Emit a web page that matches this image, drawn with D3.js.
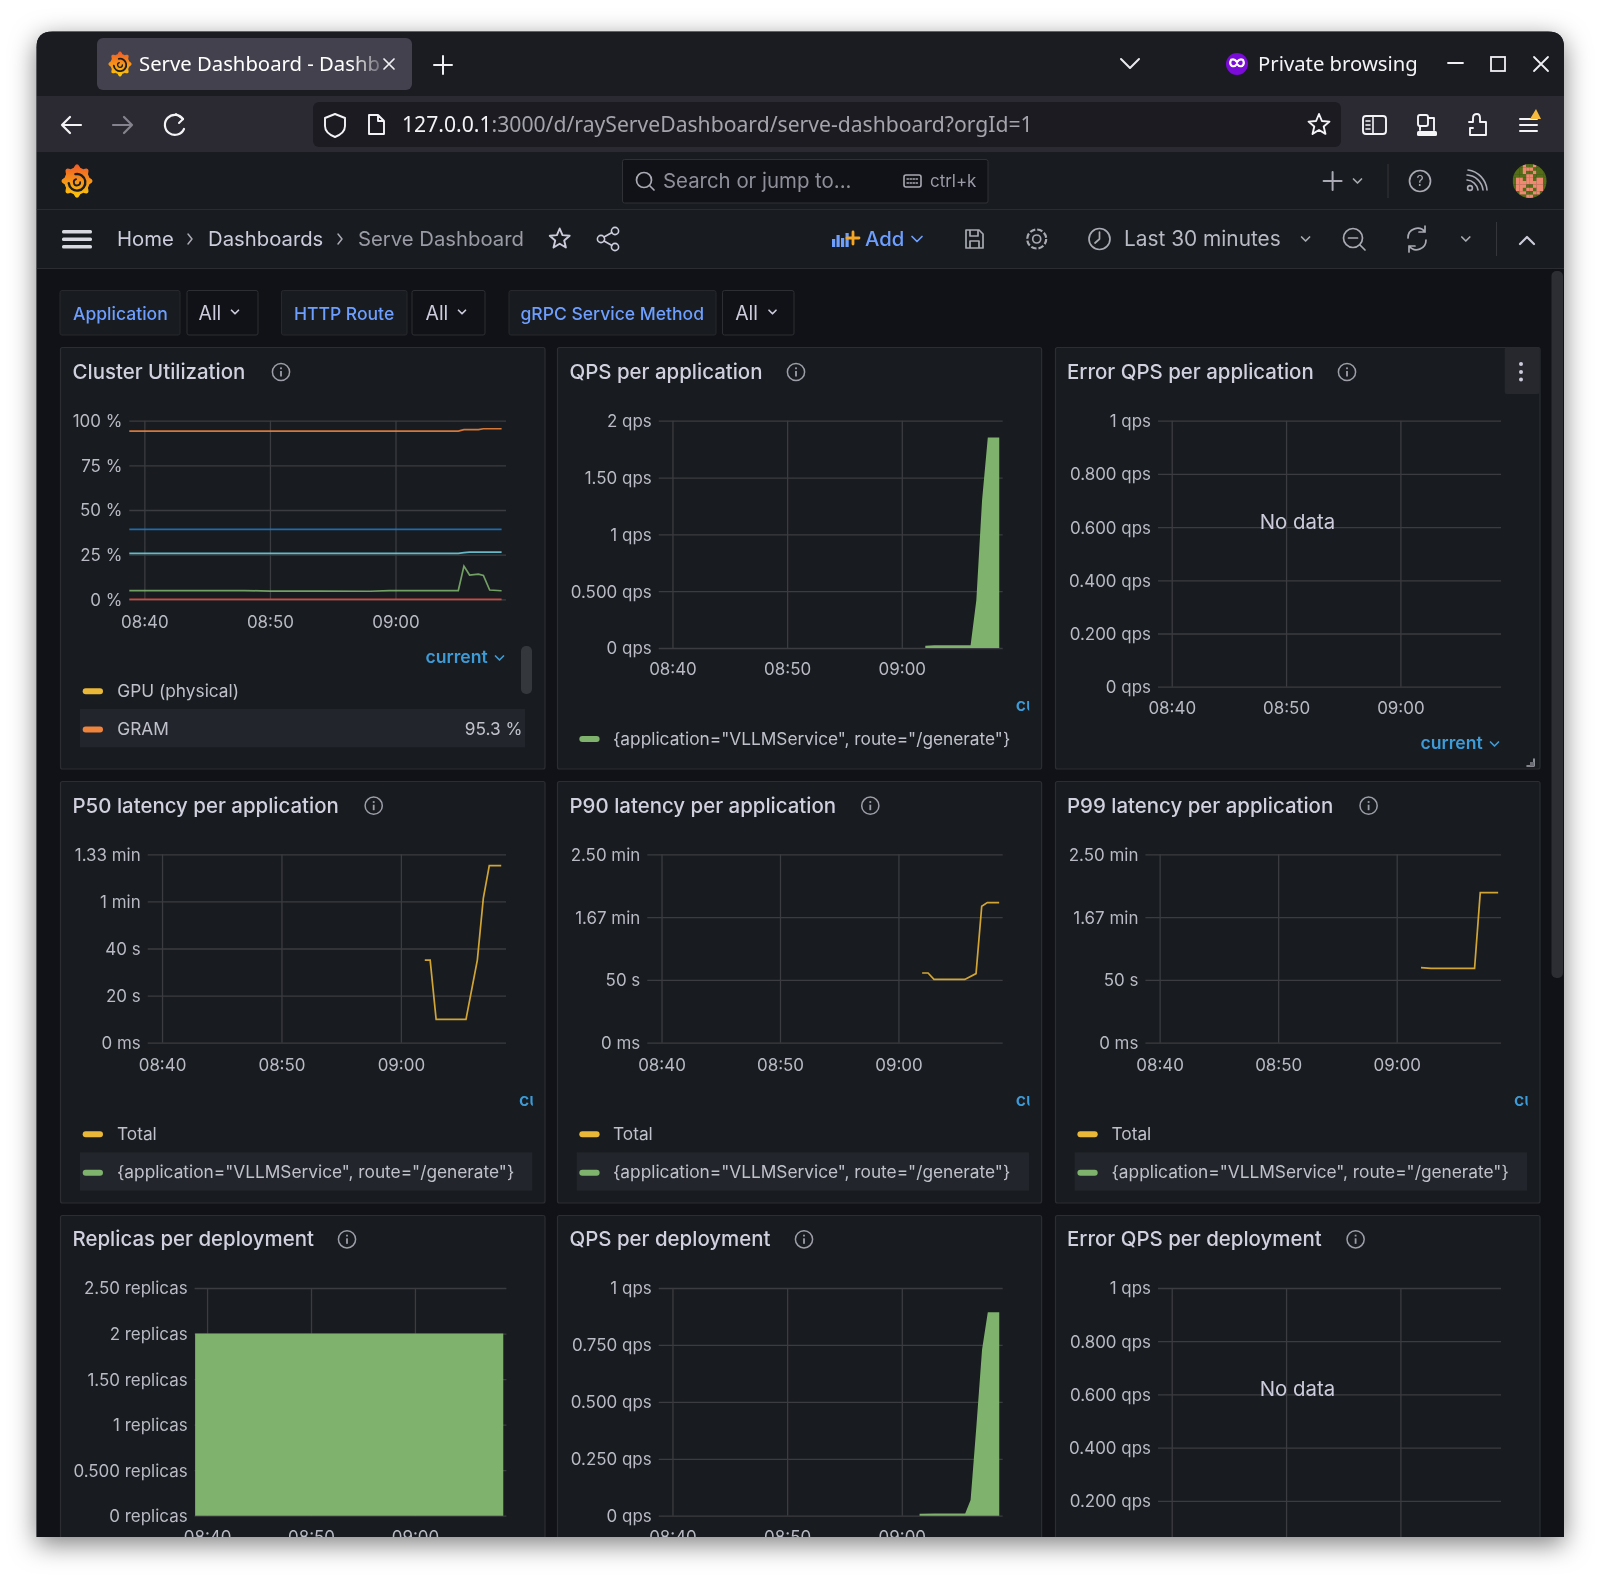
<!DOCTYPE html>
<html><head><meta charset="utf-8">
<style>
html,body{margin:0;padding:0;background:#fff;overflow:hidden}
svg{display:block}
text{font-family:Inter,"Noto Sans",sans-serif}
.tick text{font-size:16.95px;fill:#b9bac4}
.tick line{stroke:#3a3c41;stroke-width:1.3}
</style></head><body>
<script src="https://cdn.jsdelivr.net/npm/d3@7"></script>
<script>
// ---- time axis (minutes after 08:40) ----
const timeTicks=[0,10,20];
const timeTickLabels=["08:40","08:50","09:00"];
const timeDomain=[-1.2,28.8];

// ---- Cluster Utilization (%) ----
const utilT=[-1.2,3,8,10,14,18,19.5,22,25,25.45,25.9,26.6,27,27.5,28.45];
const utilGram=[94.2,94.2,94.2,94.2,94.2,94.2,94.2,94.2,94.2,95,95,95,95.5,95.5,95.5];
const utilCpu=[39.2,39.2,39.2,39.2,39.2,39.2,39.2,39.2,39.2,39.2,39.2,39.2,39.2,39.2,39.2];
const utilMem=[25.7,25.7,25.7,25.7,25.7,25.7,25.7,25.7,25.7,26.1,26.4,26.4,26.4,26.4,26.4];
const utilGpu=[4.9,4.9,4.9,4.6,4.6,4.5,4.9,4.9,4.9,18.6,13.6,14.1,13.4,5.2,4.8];
const utilDisk=[0,0,0,0,0,0,0,0,0,0,0,0,0,0,0];
const utilTicks=[0,25,50,75,100];
const utilLabels=["0 %","25 %","50 %","75 %","100 %"];

// ---- QPS per application ----
const qpsAppT=[22.05,22.85,26,26.5,27,27.5,28.5];
const qpsAppV=[0.02,0.024,0.024,0.42,1.3,1.853,1.853];
const qpsAppTicks=[0,0.5,1,1.5,2];
const qpsAppLabels=["0 qps","0.500 qps","1 qps","1.50 qps","2 qps"];

// ---- Error QPS (no data) ----
const errTicks=[0,0.2,0.4,0.6,0.8,1];
const errLabels=["0 qps","0.200 qps","0.400 qps","0.600 qps","0.800 qps","1 qps"];

// ---- latency (seconds) ----
const p50T=[22,22.45,22.95,25.45,26.4,26.9,27.4,28.4];
const p50V=[35.1,35.1,9.9,9.9,35.1,61.3,75.2,75.2];
const p50Ticks=[0,20,40,60,80];
const p50Labels=["0 ms","20 s","40 s","1 min","1.33 min"];
const p90T=[22,22.5,23,25.6,26.55,27.03,27.5,28.5];
const p90V=[55.5,55.5,50.4,50.4,55,108.6,111.5,111.5];
const p99T=[22.05,22.9,26.57,27.05,28.56];
const p99V=[59.7,59.2,59.2,119.5,119.5];
const lat150Ticks=[0,50,100,150];
const lat150Labels=["0 ms","50 s","1.67 min","2.50 min"];

// ---- replicas / QPS per deployment ----
const replicaT=[-1.15,5,10,15,20,25,28.5];
const replicaV=[2,2,2,2,2,2,2];
const replicaTicks=[0,0.5,1,1.5,2,2.5];
const replicaLabels=["0 replicas","0.500 replicas","1 replicas","1.50 replicas","2 replicas","2.50 replicas"];
const qpsDepT=[21.55,22.85,25.53,26,26.5,27,27.5,28.5];
const qpsDepV=[0.009,0.01,0.01,0.069,0.39,0.73,0.893,0.893];
const qpsDepTicks=[0,0.25,0.5,0.75,1];
const qpsDepLabels=["0 qps","0.250 qps","0.500 qps","0.750 qps","1 qps"];

// ---- legends ----
const routeLabel='{application="VLLMService", route="/generate"}';
const clusterLegend=["GPU (physical)","GRAM"];
const clusterCurrent="95.3 %";

// ---- palette ----
const GREEN="#7eb26d",YELLOW="#eab839",ORANGE="#ef843c",CYAN="#6ed0e0",BLUE="#1f78c1",RED="#e24d42";
const TXT="#ccccdc",ICON="#a9aab3",LINK="#3d9bd8";

const svg=d3.select("body").append("svg").attr("width",1600).attr("height",1577);
const defs=svg.append("defs");
const WL=36.5,WT=31.5,WR=1564,WB=1537,R=16;
const winPath=`M${WL},${WB}V${WT+R}Q${WL},${WT} ${WL+R},${WT}H${WR-R}Q${WR},${WT} ${WR},${WT+R}V${WB}Z`;
defs.append("clipPath").attr("id","win").append("path").attr("d",winPath);
const grad=defs.append("linearGradient").attr("id","gf").attr("x1",0).attr("y1",0).attr("x2",0).attr("y2",1);
grad.append("stop").attr("offset",0).attr("stop-color","#f05a28");
grad.append("stop").attr("offset",1).attr("stop-color","#fbca0a");

svg.append("path").attr("d",winPath).attr("fill","#1b1c21").style("filter","drop-shadow(0 7px 13px rgba(0,0,0,.5))");
const W=svg.append("g").attr("clip-path","url(#win)").style("filter","blur(.4px)");

function rect(g,x0,y0,x1,y1,fill,o={}){
  const r=g.append("rect").attr("x",x0).attr("y",y0).attr("width",x1-x0).attr("height",y1-y0).attr("fill",fill);
  if(o.r)r.attr("rx",o.r);
  if(o.stroke)r.attr("stroke",o.stroke).attr("stroke-width",o.sw||1);
  return r;
}
function text(g,x,y,s,size,fill,o={}){
  return g.append("text").attr("x",x).attr("y",y).attr("dy",".35em").text(s)
    .attr("font-size",size).attr("fill",fill)
    .attr("font-weight",o.w||400).attr("text-anchor",o.a||"start")
    .style("font-family",o.f||null);
}
function stroke(g,d,c,sw=1.8,tr){
  const p=g.append("path").attr("d",d).attr("fill","none").attr("stroke",c).attr("stroke-width",sw)
    .attr("stroke-linecap","round").attr("stroke-linejoin","round");
  if(tr)p.attr("transform",tr);
  return p;
}
function chev(g,x,y,c=ICON,s=4){stroke(g,`M${x-s},${y-s/2}L${x},${y+s/2}L${x+s},${y-s/2}`,c,1.7);}
function star(g,x,y,r,c){
  const pts=d3.range(10).map(i=>{const a=-Math.PI/2+i*Math.PI/5,q=i%2?r*.45:r;return [x+q*Math.cos(a),y+q*Math.sin(a)];});
  stroke(g,"M"+pts.join("L")+"Z",c,1.9);
}
function logo(g,x,y,s){
  const n=72,pts=d3.range(n).map(i=>{const a=i/n*2*Math.PI;const t=Math.cos(a*8);const q=.84+.13*Math.max(t,-.4);return [x+s*q*Math.cos(a),y+s*1.08*q*Math.sin(a)];});
  g.append("path").attr("d","M"+pts.join("L")+"Z").attr("fill","url(#gf)");
  stroke(g,d3.arc()({innerRadius:s*.52,outerRadius:s*.52,startAngle:-.2,endAngle:4.6}),"#1c1d22",s*.15,`translate(${x},${y+s*.08})`);
  stroke(g,d3.arc()({innerRadius:s*.2,outerRadius:s*.2,startAngle:1.5,endAngle:6}),"#1c1d22",s*.11,`translate(${x},${y+s*.08})`);
}

// ---- browser chrome ----
rect(W,WL,WT,WR,96,"#1b1c21");
rect(W,WL,96,WR,152,"#2b2a33");
rect(W,97,38,412,90,"#42414d",{r:6});
logo(W,120,64,12);
const tabFade=defs.append("linearGradient").attr("id","tabf");
tabFade.append("stop").attr("offset",.88).attr("stop-color","#fff").attr("stop-opacity",1);
tabFade.append("stop").attr("offset",1).attr("stop-color","#fff").attr("stop-opacity",.25);
const UI='"Noto Sans",sans-serif';
text(W,139,64,"Serve Dashboard - Dashb",20.3,"url(#tabf)",{f:UI});
stroke(W,"M384,59L394,69M394,59L384,69","#f0f0f4",1.7);
stroke(W,"M443,56V74M434,65H452","#f0f0f4",2);
stroke(W,"M1121,59L1130,68L1139,59","#e8e8ee",2);
W.append("circle").attr("cx",1237).attr("cy",64).attr("r",11).attr("fill","#7a0bd8");
stroke(W,"M1231,60q3,-2 6,2q3,-4 6,-2q2,4 -1,6q-3,1 -5,-2q-2,3 -5,2q-3,-2 -1,-6","#fff",2.2);
text(W,1258,64,"Private browsing",20.3,"#f4f4f7",{f:UI});
stroke(W,"M1448,63H1463","#f0f0f4",1.8);
rect(W,1491,57,1505,71,"none",{stroke:"#f0f0f4",sw:1.8});
stroke(W,"M1534,57L1548,71M1548,57L1534,71","#f0f0f4",1.8);
// nav
stroke(W,"M81,125H62M70,117L62,125L70,133","#f4f4f7",2.2);
stroke(W,"M113,125H132M124,117L132,125L124,133","#85848e",2.2);
stroke(W,"M183,119A10,10 0 1 0 184,129","#f4f4f7",2.2);
stroke(W,"M176,114L183,119L179,123","#f4f4f7",2);
rect(W,313,102,1341,147,"#1c1b22",{r:6});
stroke(W,"M335,114L345,118V126C345,131 340,135 335,137C330,135 325,131 325,126V118Z","#f4f4f7",1.9);
stroke(W,"M369,115H378L384,121V134H369ZM378,115V121H384","#f4f4f7",1.9);
const urlT=text(W,402,125,"",21.15,"#f4f4f7",{f:UI});
urlT.append("tspan").text("127.0.0.1");
urlT.append("tspan").attr("fill","#a5a4ad").text(":3000/d/rayServeDashboard/serve-dashboard?orgId=1");
star(W,1319,125,11,"#f4f4f7");
rect(W,1363,116,1386,134,"none",{r:3,stroke:"#f4f4f7",sw:1.9});
stroke(W,"M1373,116V134M1366,121H1370M1366,125H1370M1366,129H1370","#f4f4f7",1.6);
rect(W,1418,115,1428,126,"none",{r:2,stroke:"#f4f4f7",sw:1.9});
stroke(W,"M1428,118H1434V130M1420,126V130","#f4f4f7",1.9);
rect(W,1417,131,1437,136,"#f4f4f7",{r:1.5});
stroke(W,"M1469,122H1473V118Q1473,114 1477,114Q1480,114 1480,118V122H1486V135H1470V128H1473","#f4f4f7",1.9);
stroke(W,"M1520,119H1537M1520,125H1537M1520,131H1537","#f4f4f7",2);
W.append("path").attr("d","M1530,119L1536,109L1541,119Z").attr("fill","#f5b93e");

// ---- Grafana header ----
rect(W,WL,152,WR,269,"#181b1f");
rect(W,WL,209,WR,210,"#2a2c31");
rect(W,WL,268,WR,269,"#2a2c31");
rect(W,WL,269,WR,WB,"#111217");
logo(W,77,181,16);
rect(W,622.5,159.5,988,203,"#111217",{r:2,stroke:"#2f3136"});
W.append("circle").attr("cx",644).attr("cy",180).attr("r",7.5).attr("fill","none").attr("stroke",ICON).attr("stroke-width",1.7);
stroke(W,"M650,186L654,190",ICON,1.7);
text(W,663,181,"Search or jump to...",20.4,"#8e8f99");
rect(W,904,175,921,187,"none",{r:2,stroke:ICON,sw:1.6});
stroke(W,"M907,179H918M907,183H918",ICON,1.3).attr("stroke-dasharray","1.5 1.5");
text(W,930,181,"ctrl+k",16.9,"#9a9ba5");
stroke(W,"M1332.6,172V190M1323.6,181H1341.6",ICON,2);
chev(W,1357.5,181);
rect(W,1387.5,164,1388.5,198,"#34363b");
W.append("circle").attr("cx",1420).attr("cy",181).attr("r",10.5).attr("fill","none").attr("stroke",ICON).attr("stroke-width",1.7);
text(W,1420,181,"?",14,ICON,{a:"middle"});
W.append("circle").attr("cx",1470).attr("cy",188).attr("r",2.4).attr("fill","none").attr("stroke",ICON).attr("stroke-width",1.6);
stroke(W,"M1467,180A12,12 0 0 1 1478,190M1467,175A17,17 0 0 1 1483,190M1468,170A22,22 0 0 1 1487,190",ICON,1.6);
// avatar: pixel identicon
const avatarRows=["gggpggpggg","gggpppgggg","gggpggpggg","ggggppgggg","gppgppgppg","gppppppppg","gpppggpppg","gppgppgppg","ggppggppgg","ggggppgggg"];
defs.append("clipPath").attr("id","av").append("circle").attr("cx",1529.6).attr("cy",181).attr("r",17);
const av=W.append("g").attr("clip-path","url(#av)");
avatarRows.forEach((r,j)=>[...r].forEach((c,i)=>rect(av,1512.6+i*3.4,164+j*3.4,1512.6+(i+1)*3.4+.2,164+(j+1)*3.4+.2,c=="p"?"#ef8a72":"#546f18")));

rect(W,62,230,92,233.5,"#d8d8e0",{r:1.5});rect(W,62,237.5,92,241,"#d8d8e0",{r:1.5});rect(W,62,245,92,248.5,"#d8d8e0",{r:1.5});
const crumbSize=20.3;
text(W,117,239,"Home",crumbSize,TXT);
stroke(W,"M188,234L192,239L188,244",ICON,1.5);
text(W,208,239,"Dashboards",crumbSize,TXT);
stroke(W,"M338,234L342,239L338,244",ICON,1.5);
text(W,358,239,"Serve Dashboard",crumbSize,"#9a9ba5");
star(W,559.7,239,10.5,TXT);
[[601,239],[615,231],[615,247]].forEach(p=>W.append("circle").attr("cx",p[0]).attr("cy",p[1]).attr("r",3.6).attr("fill","none").attr("stroke",TXT).attr("stroke-width",1.6));
stroke(W,"M604,237L612,232.5M604,241L612,245.5",TXT,1.6);
// add
[[832,8],[836.5,12],[841,9],[845.5,14]].forEach(b=>rect(W,b[0],247-b[1],b[0]+3.2,247,"#6e9fff"));
stroke(W,"M853,232V244M847,238H859","#f5a623",2.8);
text(W,865,239,"Add",20.3,"#6e9fff",{w:500});
chev(W,917,239,"#6e9fff",5);
stroke(W,"M966,230H979L983,234V248H966ZM970,230V236H978V230M970,248V241H979V248",ICON,1.7);
W.append("circle").attr("cx",1036.7).attr("cy",239).attr("r",4).attr("fill","none").attr("stroke",ICON).attr("stroke-width",1.7);
W.append("circle").attr("cx",1036.7).attr("cy",239).attr("r",9.5).attr("fill","none").attr("stroke",ICON).attr("stroke-width",2.2).attr("stroke-dasharray","5.5 2");
W.append("circle").attr("cx",1099.5).attr("cy",239).attr("r",10.5).attr("fill","none").attr("stroke",ICON).attr("stroke-width",1.7);
stroke(W,"M1099.5,232V239L1095,243",ICON,1.7);
text(W,1124,239,"Last 30 minutes",20.85,"#b9bac4");
chev(W,1305.6,239);
W.append("circle").attr("cx",1353).attr("cy",238).attr("r",9.5).attr("fill","none").attr("stroke",ICON).attr("stroke-width",1.7);
stroke(W,"M1348.5,238H1357.5M1360,245L1365,250",ICON,1.7);
stroke(W,"M1408,238A9.5,9.5 0 0 1 1425,232M1426,240A9.5,9.5 0 0 1 1409,246M1425,226V232H1419M1409,252V246H1415",ICON,1.7);
chev(W,1465.8,239);
rect(W,1496,222,1497,256,"#34363b");
stroke(W,"M1520,244L1527,237L1534,244",TXT,2.2);

// ---- variable filters ----
function filter(x0,x1,lab,x2,x3,allX,chevX,textX){
  rect(W,x0,290.5,x1,335,"#181b1f",{r:2,stroke:"#26282d"});
  text(W,textX,313.5,lab,17.55,"#6e9fff",{w:500});
  rect(W,x2,290.5,x3,335,"#111217",{r:2,stroke:"#2c2e33"});
  text(W,allX-.5,313,"All",19.4,TXT);
  chev(W,chevX,312,TXT,3.5);
}
filter(60,180,"Application",187,258,199,235,73);
filter(281.5,407,"HTTP Route",412,485,426,462,294);
filter(509,716,"gRPC Service Method",722.5,794,735.7,772.5,520.5);

// ---- panels ----
const COL=[[60,545,72.5],[557,1041.6,569.5],[1055,1540,1067]];
const ROW=[[347,769,372],[781,1203,805.7],[1215,1600,1239.3]];
const panels=[
 {title:"Cluster Utilization",c:0,r:0,info:281,xPad:17,plot:[129.3,506,420.7,599.3],dom:[0,100],ticks:utilTicks,labels:utilLabels,
  lines:[{t:utilT,v:utilGram,c:ORANGE},{t:utilT,v:utilCpu,c:BLUE},{t:utilT,v:utilMem,c:CYAN},{t:utilT,v:utilGpu,c:GREEN},{t:utilT,v:utilDisk,c:RED}]},
 {title:"QPS per application",c:1,r:0,info:796,xPad:15,plot:[658.7,1002.7,420.7,648],dom:[0,2],ticks:qpsAppTicks,labels:qpsAppLabels,
  area:{t:qpsAppT,v:qpsAppV}},
 {title:"Error QPS per application",c:2,r:0,info:1347,xPad:15.3,plot:[1158,1501,420.7,686.7],dom:[0,1],ticks:errTicks,labels:errLabels,noData:521.7},
 {title:"P50 latency per application",c:0,r:1,info:373.7,xPad:16,plot:[147.7,506,854.3,1042.7],dom:[0,80],ticks:p50Ticks,labels:p50Labels,lines:[{t:p50T,v:p50V,c:YELLOW}]},
 {title:"P90 latency per application",c:1,r:1,info:870.3,xPad:16,plot:[647.3,1002.7,854.3,1042.7],dom:[0,150],ticks:lat150Ticks,labels:lat150Labels,lines:[{t:p90T,v:p90V,c:YELLOW}]},
 {title:"P99 latency per application",c:2,r:1,info:1368.6,xPad:16,plot:[1145.4,1501,854.3,1042.7],dom:[0,150],ticks:lat150Ticks,labels:lat150Labels,lines:[{t:p99T,v:p99V,c:YELLOW}]},
 {title:"Replicas per deployment",c:0,r:2,info:347,xPad:15,plot:[194.6,506.4,1288,1515.7],dom:[0,2.5],ticks:replicaTicks,labels:replicaLabels,area:{t:replicaT,v:replicaV}},
 {title:"QPS per deployment",c:1,r:2,info:804,xPad:15,plot:[658.7,1002.7,1288,1515.7],dom:[0,1],ticks:qpsDepTicks,labels:qpsDepLabels,area:{t:qpsDepT,v:qpsDepV}},
 {title:"Error QPS per deployment",c:2,r:2,info:1355.6,xPad:15,plot:[1158,1501,1288,1554],dom:[0,1],ticks:errTicks,labels:errLabels,noData:1389.3}
];
panels.forEach((p,i)=>{
  const [x0,x1,tx]=COL[p.c],[y0,y1,ty]=ROW[p.r];
  const g=W.append("g");
  rect(g,x0+.5,y0+.5,x1,y1,"#181b1f",{r:2,stroke:"#2b2d32",sw:1.2});
  text(g,tx,ty,p.title,20.45,"#d0d0de",{w:500});
  g.append("circle").attr("cx",p.info).attr("cy",ty).attr("r",8.6).attr("fill","none").attr("stroke","#9d9ea8").attr("stroke-width",1.5);
  rect(g,p.info-.9,ty-1,p.info+.9,ty+4.5,"#9d9ea8");
  rect(g,p.info-.9,ty-4.6,p.info+.9,ty-2.8,"#9d9ea8");
  const [L,Rt,T,B]=p.plot;
  const x=d3.scaleLinear().domain(timeDomain).range([L,Rt]);
  const y=d3.scaleLinear().domain(p.dom).range([B,T]);
  const ay=g.append("g").attr("transform",`translate(${L},0)`)
    .call(d3.axisLeft(y).tickValues(p.ticks).tickFormat((d,k)=>p.labels[k]).tickSize(-(Rt-L)).tickPadding(7));
  const ax=g.append("g").attr("transform",`translate(0,${B})`)
    .call(d3.axisBottom(x).tickValues(timeTicks).tickFormat((d,k)=>timeTickLabels[k]).tickSize(-(B-T)).tickPadding(p.xPad));
  ay.select(".domain").remove();ax.select(".domain").remove();
  ay.selectAll("text").attr("dy",".35em");
  // labels that fall below the window edge are not part of the picture
  if(B+10>WB){ax.selectAll("text").remove();ay.selectAll(".tick").filter(d=>y(d)>WB).select("text").remove();}
  if(p.area){
    g.append("path").datum(p.area.t.map((t,k)=>[t,p.area.v[k]]))
     .attr("fill",GREEN).attr("d",d3.area().x(d=>x(d[0])).y0(y(0)).y1(d=>y(d[1])));
  }
  (p.lines||[]).forEach(s=>{
    g.append("path").datum(s.t.map((t,k)=>[t,s.v[k]])).attr("fill","none").attr("stroke",s.c)
     .attr("stroke-width",1.7).attr("opacity",.88).attr("d",d3.line().x(d=>x(d[0])).y(d=>y(d[1])));
  });
  if(p.noData)text(g,1297.4,p.noData,"No data",20.4,TXT,{a:"middle"});
});

// ---- legends ----
function swatch(x0,y,c){rect(W,x0,y-3,x0+20.3,y+3,c,{r:3});}
function hl(x0,x1,y0,y1){rect(W,x0,y0,x1,y1,"#22252b");}
function clipped(id,x,y,w){
  defs.append("clipPath").attr("id",id).append("rect").attr("x",x).attr("y",y-15).attr("width",w).attr("height",30);
  text(W,x,y,"current",17.6,LINK,{w:600}).attr("clip-path",`url(#${id})`);
}
const LS=17.3;
// Cluster legend
text(W,425.5,656.7,"current",17.6,LINK,{w:600});
chev(W,499.5,658,LINK,4);
rect(W,521,646,532,694,"#34373c",{r:5});
swatch(82.7,691.3,YELLOW);text(W,117.3,690.5,clusterLegend[0],LS,"#c0c1cb");
hl(80,525,709,747.3);
swatch(82.7,729.5,ORANGE);text(W,117.3,728.5,clusterLegend[1],LS,"#c0c1cb");
text(W,522.5,728.5,clusterCurrent,LS,"#c0c1cb",{a:"end"});
// QPS app legend
clipped("c1",1015.7,705,13.5);
swatch(579.3,739,GREEN);text(W,613,738.5,routeLabel,LS,"#c0c1cb");
// Error legend
text(W,1420.5,742.7,"current",17.6,LINK,{w:600});
chev(W,1494.5,744,LINK,4);
rect(W,1504.7,347.6,1539.5,394,"#26282d",{r:2});
[364,372,379.5].forEach(cy=>W.append("circle").attr("cx",1521).attr("cy",cy).attr("r",2).attr("fill",TXT));
stroke(W,"M1527,766H1534V759",ICON,1.6);
rect(W,1530,762,1534,766,"#6a6b74");
// latency legends
[[82.7,117,80,532.3,519,"c2"],[579.3,613,576.7,1029,1015.7,"c3"],[1077.4,1111.5,1074.6,1527,1513.9,"c4"]].forEach(a=>{
  clipped(a[5],a[4],1100,13.8);
  swatch(a[0],1134.3,YELLOW);text(W,a[1],1133.5,"Total",LS,"#c0c1cb");
  hl(a[2],a[3],1152.3,1190.7);
  swatch(a[0],1172.7,GREEN);text(W,a[1],1171.7,routeLabel,LS,"#c0c1cb");
});
// page scrollbar
rect(W,1551.5,271,1563,978,"#2c2e33",{r:5});
</script>
</body></html>
